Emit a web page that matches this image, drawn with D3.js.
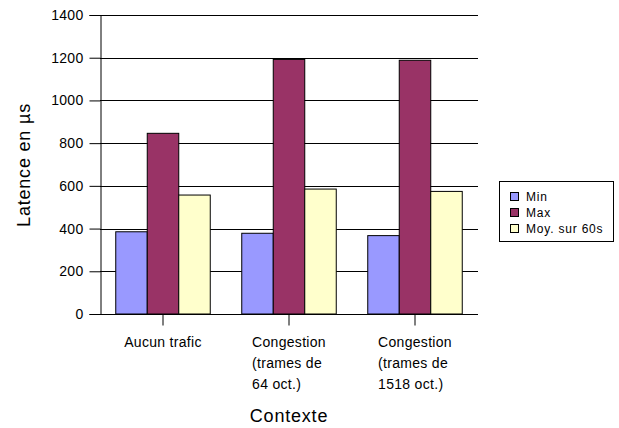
<!DOCTYPE html>
<html>
<head>
<meta charset="utf-8">
<script src="https://cdn.jsdelivr.net/npm/d3@7"></script>
<style>
  html, body { margin: 0; padding: 0; background: #fff; }
  svg { display: block; font-family: "Liberation Sans", Arial, sans-serif; }
</style>
</head>
<body>
<svg id="chart" width="619" height="428"></svg>
<script>
// Latency per context (µs)
const categories = [
  ["Aucun trafic"],
  ["Congestion", "(trames de", "64 oct.)"],
  ["Congestion", "(trames de", "1518 oct.)"]
];
const seriesNames = ["Min", "Max", "Moy. sur 60s"];
const minValues = [385, 378, 367];
const maxValues = [846, 1192, 1188];
const moyValues = [557, 585, 574];
const yTicks = [0, 200, 400, 600, 800, 1000, 1200, 1400];
const colors = ["#9999FF", "#993366", "#FFFFCC"];

const series = [minValues, maxValues, moyValues];

const svg = d3.select("#chart");
const plot = { left: 100, right: 478, top: 15, bottom: 314 };

const x0 = d3.scaleBand()
  .domain(d3.range(categories.length))
  .range([plot.left, plot.right])
  .paddingInner(0).paddingOuter(0);

const groupW = x0.bandwidth() * 0.75;
const x1 = d3.scaleBand()
  .domain(d3.range(series.length))
  .range([0, groupW]);

const y = d3.scaleLinear().domain([0, 1400]).range([plot.bottom, plot.top]);

// horizontal gridlines
svg.append("g")
  .selectAll("line")
  .data(yTicks.filter(t => t > 0))
  .join("line")
  .attr("x1", plot.left).attr("x2", plot.right)
  .attr("y1", d => Math.round(y(d)) + 0.5).attr("y2", d => Math.round(y(d)) + 0.5)
  .attr("stroke", "#000").attr("stroke-width", 1);

// bars
const groups = svg.append("g")
  .selectAll("g")
  .data(categories.map((c, i) => i))
  .join("g")
  .attr("transform", i => `translate(${x0(i) + (x0.bandwidth() - groupW) / 2},0)`);

groups.selectAll("rect")
  .data(i => series.map((s, k) => ({ k, v: s[i] })))
  .join("rect")
  .attr("x", d => x1(d.k))
  .attr("width", x1.bandwidth())
  .attr("y", d => y(d.v))
  .attr("height", d => y(0) - y(d.v))
  .attr("fill", d => colors[d.k])
  .attr("stroke", "#000")
  .attr("stroke-width", 1);

// y axis
const yAxis = d3.axisLeft(y).tickValues(yTicks).tickSize(11).tickPadding(6).tickFormat(d3.format("d"));
const gy = svg.append("g")
  .attr("transform", `translate(${plot.left + 0.5},0)`)
  .call(yAxis);
gy.select(".domain").attr("stroke", "#000");
gy.selectAll(".tick line").attr("stroke", "#000");
gy.selectAll(".tick text")
  .attr("font-size", 14).attr("fill", "#000")
  .attr("font-family", "Liberation Sans, Arial, sans-serif")
  .attr("letter-spacing", "0.3px");

// x axis
const xAxis = d3.axisBottom(x0).tickSize(11).tickFormat("");
const gx = svg.append("g")
  .attr("transform", `translate(0,${plot.bottom + 0.5})`)
  .call(xAxis);
gx.select(".domain").attr("stroke", "#000").attr("d", `M${plot.left},0H${plot.right}`);
gx.selectAll(".tick line").attr("stroke", "#000");

// category labels: left-aligned lines, block centred on the tick
categories.forEach((lines, i) => {
  const cx = x0(i) + x0.bandwidth() / 2;
  const t = svg.append("text")
    .attr("font-size", 14)
    .attr("letter-spacing", "0.3px")
    .attr("fill", "#000");
  lines.forEach((ln, j) => {
    t.append("tspan").attr("x", 0).attr("y", 347 + j * 21).text(ln);
  });
  const w = d3.max(t.selectAll("tspan").nodes(), n => n.getComputedTextLength());
  t.attr("transform", `translate(${cx - w / 2},0)`);
});

// axis titles
svg.append("text")
  .attr("transform", "translate(30,165) rotate(-90)")
  .attr("text-anchor", "middle")
  .attr("font-size", 18)
  .attr("letter-spacing", "0.8px")
  .attr("fill", "#000")
  .text("Latence en µs");

svg.append("text")
  .attr("x", 289).attr("y", 422)
  .attr("text-anchor", "middle")
  .attr("font-size", 18)
  .attr("letter-spacing", "0.8px")
  .attr("fill", "#000")
  .text("Contexte");

// legend
const lg = svg.append("g");
lg.append("rect")
  .attr("x", 499.5).attr("y", 181.5).attr("width", 114).attr("height", 60)
  .attr("fill", "#fff").attr("stroke", "#000").attr("stroke-width", 1);
seriesNames.forEach((name, k) => {
  const yy = 192 + k * 16;
  lg.append("rect")
    .attr("x", 510.5).attr("y", yy + 0.5).attr("width", 8).attr("height", 8)
    .attr("fill", colors[k]).attr("stroke", "#000");
  lg.append("text")
    .attr("x", 526).attr("y", yy + 9)
    .attr("font-size", 12)
    .attr("letter-spacing", "0.8px")
    .attr("fill", "#000")
    .text(name);
});
</script>
</body>
</html>
